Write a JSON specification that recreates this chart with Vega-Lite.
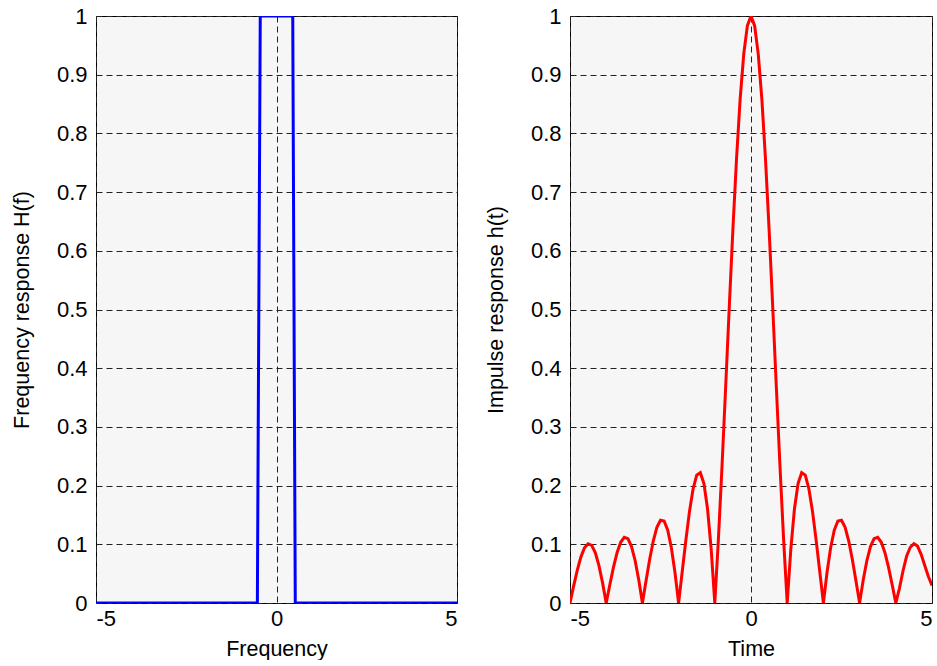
{
  "$schema": "https://vega.github.io/schema/vega-lite/v6.json",
  "padding": {"left": 10, "top": 4, "right": 0, "bottom": 0},
  "background": "white",
  "spacing": 113,
  "bounds": "flush",
  "datasets": {
    "freq": [
      {"f": -5, "H": 0},
      {"f": -0.53, "H": 0},
      {"f": -0.45, "H": 1},
      {"f": 0.45, "H": 1},
      {"f": 0.52, "H": 0},
      {"f": 5, "H": 0}
    ],
    "imp": [
      {"t": -5.0, "h": 0},
      {"t": -4.9, "h": 0.0287},
      {"t": -4.8, "h": 0.0557},
      {"t": -4.7, "h": 0.0782},
      {"t": -4.6, "h": 0.094},
      {"t": -4.5, "h": 0.101},
      {"t": -4.4, "h": 0.0982},
      {"t": -4.3, "h": 0.0855},
      {"t": -4.2, "h": 0.0636},
      {"t": -4.1, "h": 0.0343},
      {"t": -4.0, "h": 0},
      {"t": -3.9, "h": 0.031},
      {"t": -3.8, "h": 0.0606},
      {"t": -3.7, "h": 0.0857},
      {"t": -3.6, "h": 0.1035},
      {"t": -3.5, "h": 0.112},
      {"t": -3.4, "h": 0.1096},
      {"t": -3.3, "h": 0.0961},
      {"t": -3.2, "h": 0.072},
      {"t": -3.1, "h": 0.0391},
      {"t": -3.0, "h": 0},
      {"t": -2.9, "h": 0.0376},
      {"t": -2.8, "h": 0.074},
      {"t": -2.7, "h": 0.1056},
      {"t": -2.6, "h": 0.1289},
      {"t": -2.5, "h": 0.141},
      {"t": -2.4, "h": 0.1396},
      {"t": -2.3, "h": 0.1239},
      {"t": -2.2, "h": 0.0941},
      {"t": -2.1, "h": 0.0519},
      {"t": -2.0, "h": 0},
      {"t": -1.9, "h": 0.0532},
      {"t": -1.8, "h": 0.1067},
      {"t": -1.7, "h": 0.1556},
      {"t": -1.6, "h": 0.1943},
      {"t": -1.5, "h": 0.2179},
      {"t": -1.4, "h": 0.222},
      {"t": -1.3, "h": 0.2034},
      {"t": -1.2, "h": 0.1601},
      {"t": -1.1, "h": 0.0918},
      {"t": -1.0, "h": 0},
      {"t": -0.9, "h": 0.1093},
      {"t": -0.8, "h": 0.2339},
      {"t": -0.7, "h": 0.3679},
      {"t": -0.6, "h": 0.5046},
      {"t": -0.5, "h": 0.6366},
      {"t": -0.4, "h": 0.7568},
      {"t": -0.3, "h": 0.8584},
      {"t": -0.2, "h": 0.9355},
      {"t": -0.1, "h": 0.9836},
      {"t": 0.0, "h": 1},
      {"t": 0.1, "h": 0.9836},
      {"t": 0.2, "h": 0.9355},
      {"t": 0.3, "h": 0.8584},
      {"t": 0.4, "h": 0.7568},
      {"t": 0.5, "h": 0.6366},
      {"t": 0.6, "h": 0.5046},
      {"t": 0.7, "h": 0.3679},
      {"t": 0.8, "h": 0.2339},
      {"t": 0.9, "h": 0.1093},
      {"t": 1.0, "h": 0},
      {"t": 1.1, "h": 0.0918},
      {"t": 1.2, "h": 0.1601},
      {"t": 1.3, "h": 0.2034},
      {"t": 1.4, "h": 0.222},
      {"t": 1.5, "h": 0.2179},
      {"t": 1.6, "h": 0.1943},
      {"t": 1.7, "h": 0.1556},
      {"t": 1.8, "h": 0.1067},
      {"t": 1.9, "h": 0.0532},
      {"t": 2.0, "h": 0},
      {"t": 2.1, "h": 0.0519},
      {"t": 2.2, "h": 0.0941},
      {"t": 2.3, "h": 0.1239},
      {"t": 2.4, "h": 0.1396},
      {"t": 2.5, "h": 0.141},
      {"t": 2.6, "h": 0.1289},
      {"t": 2.7, "h": 0.1056},
      {"t": 2.8, "h": 0.074},
      {"t": 2.9, "h": 0.0376},
      {"t": 3.0, "h": 0},
      {"t": 3.1, "h": 0.0391},
      {"t": 3.2, "h": 0.072},
      {"t": 3.3, "h": 0.0961},
      {"t": 3.4, "h": 0.1096},
      {"t": 3.5, "h": 0.112},
      {"t": 3.6, "h": 0.1035},
      {"t": 3.7, "h": 0.0857},
      {"t": 3.8, "h": 0.0606},
      {"t": 3.9, "h": 0.031},
      {"t": 4.0, "h": 0},
      {"t": 4.1, "h": 0.025},
      {"t": 4.2, "h": 0.055},
      {"t": 4.3, "h": 0.08},
      {"t": 4.4, "h": 0.095},
      {"t": 4.5, "h": 0.101},
      {"t": 4.6, "h": 0.097},
      {"t": 4.7, "h": 0.083},
      {"t": 4.8, "h": 0.064},
      {"t": 4.9, "h": 0.045},
      {"t": 5.0, "h": 0.03}
    ]
  },
  "config": {
    "font": "Liberation Sans",
    "view": {"stroke": "black", "strokeWidth": 1, "fill": "#f6f6f6"},
    "axis": {
      "domain": false,
      "ticks": false,
      "labelFont": "Liberation Sans",
      "labelFontSize": 22,
      "labelColor": "black",
      "titleFont": "Liberation Sans",
      "titleFontSize": 21.5,
      "titleFontWeight": "normal",
      "titleColor": "black",
      "gridColor": "#222222",
      "gridOpacity": 1,
      "gridWidth": 1,
      "gridDash": [6, 4]
    }
  },
  "hconcat": [
    {
      "width": 361,
      "height": 587,
      "data": {"name": "freq"},
      "mark": {"type": "line", "color": "#0000ff", "strokeWidth": 3, "clip": true},
      "encoding": {
        "x": {
          "field": "f", "type": "quantitative",
          "scale": {"domain": [-5, 5], "nice": false, "zero": false},
          "axis": {"values": [-5, 0, 5], "labelExpr": "'' + datum.value", "title": "Frequency", "labelPadding": 5, "titlePadding": 9}
        },
        "y": {
          "field": "H", "type": "quantitative",
          "scale": {"domain": [0, 1], "nice": false},
          "axis": {"values": [0, 0.1, 0.2, 0.3, 0.4, 0.5, 0.6, 0.7, 0.8, 0.9, 1], "format": ".1~f", "title": "Frequency response H(f)", "labelPadding": 9, "titlePadding": 23}
        }
      }
    },
    {
      "width": 362,
      "height": 587,
      "data": {"name": "imp"},
      "mark": {"type": "line", "color": "#ff0000", "strokeWidth": 3, "clip": true},
      "encoding": {
        "x": {
          "field": "t", "type": "quantitative",
          "scale": {"domain": [-5, 5], "nice": false, "zero": false},
          "axis": {"values": [-5, 0, 5], "labelExpr": "'' + datum.value", "title": "Time", "labelPadding": 5, "titlePadding": 9}
        },
        "y": {
          "field": "h", "type": "quantitative",
          "scale": {"domain": [0, 1], "nice": false},
          "axis": {"values": [0, 0.1, 0.2, 0.3, 0.4, 0.5, 0.6, 0.7, 0.8, 0.9, 1], "format": ".1~f", "title": "Impulse response h(t)", "labelPadding": 9, "titlePadding": 23}
        }
      }
    }
  ]
}
